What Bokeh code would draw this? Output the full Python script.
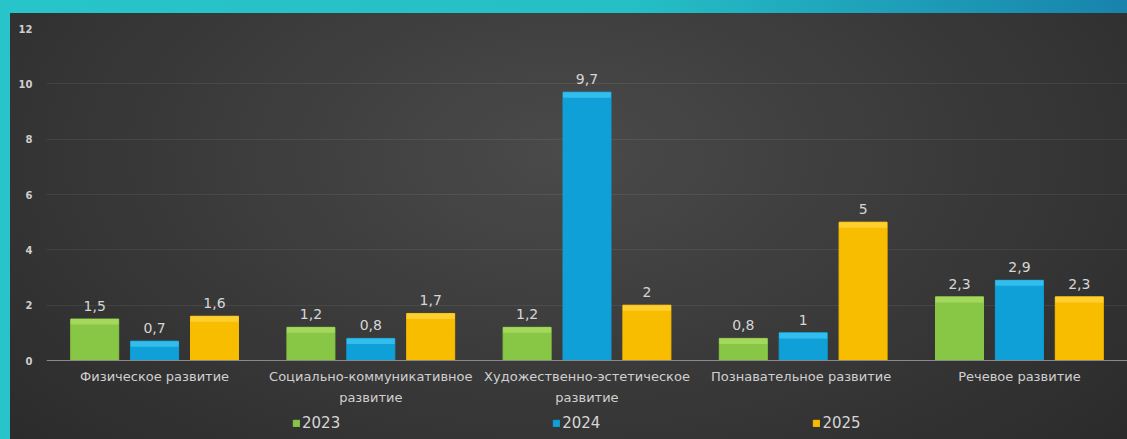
from bokeh.plotting import figure
from bokeh.models import ColumnDataSource, FixedTicker, Legend, LegendItem, GlobalInlineStyleSheet
from bokeh.transform import dodge
from bokeh.core.properties import value
from bokeh.embed import file_html
from bokeh.resources import INLINE

categories = ["Физическое развитие",
              "Социально-коммуникативное\nразвитие",
              "Художественно-эстетическое\nразвитие",
              "Познавательное  развитие",
              "Речевое развитие"]
years = ["2023", "2024", "2025"]
v2023 = [1.5, 1.2, 1.2, 0.8, 2.3]
v2024 = [0.7, 0.8, 9.7, 1.0, 2.9]
v2025 = [1.6, 1.7, 2.0, 5.0, 2.3]
y_ticks = [0, 2, 4, 6, 8, 10, 12]

series = [v2023, v2024, v2025]
colors = ["#88c646", "#0ea0d6", "#f9bd00"]
tops = ["#a3d85c", "#33bdec", "#ffcf30"]
offsets = [-0.277, 0.0, 0.277]
bar_w = 0.222
FONT = "DejaVu Sans"


def fmt(v):
    return str(int(v)) if float(v).is_integer() else str(v).replace(".", ",")


p = figure(width=1127, height=439, x_range=categories, y_range=(-2.855, 12),
           output_backend="svg", toolbar_location=None,
           min_border_left=46, min_border_right=0, min_border_top=28, min_border_bottom=0)
p.background_fill_alpha = 0
p.border_fill_alpha = 0
p.outline_line_color = None
p.styles = {"background": (
    "linear-gradient(to right, #27c4c9 0%, #25c0c6 55%, #1883ad 100%) 0 0/100% 13px no-repeat, "
    "linear-gradient(#27c4c9, #27c4c9) 0 0/10px 100% no-repeat, "
    "radial-gradient(ellipse 75% 110% at 50% 35%, #4a4a4a 0%, #3a3a3a 45%, #272727 100%)")}
p.stylesheets = [GlobalInlineStyleSheet(css="html,body{overflow:hidden;background:#2a2a2a;}")]

items = []
for yr, vals, c, tc, off in zip(years, series, colors, tops, offsets):
    src = ColumnDataSource(dict(cat=categories, val=vals,
                                hb=[v - 0.2 for v in vals],
                                lab=[fmt(v) for v in vals]))
    xs = dodge("cat", off, range=p.x_range)
    r = p.vbar(x=xs, top="val", bottom=0, width=bar_w, source=src,
               fill_color=c, line_color=c, line_width=1)
    p.vbar(x=xs, top="val", bottom="hb", width=bar_w, source=src,
           fill_color=tc, line_color=None)
    p.text(x=xs, y="val", text="lab", source=src, text_align="center",
           text_baseline="bottom", y_offset=-8, text_color="#d6d6d6",
           text_font=value(FONT), text_font_size="14px")
    items.append(LegendItem(label=yr, renderers=[r]))

p.yaxis.ticker = FixedTicker(ticks=y_ticks)
p.yaxis.axis_line_color = None
p.yaxis.major_tick_line_color = None
p.yaxis.major_tick_out = 0
p.yaxis.minor_tick_line_color = None
p.yaxis.major_label_text_color = "#cfcfcf"
p.yaxis.major_label_text_font = FONT
p.yaxis.major_label_text_font_size = "10px"
p.yaxis.major_label_text_font_style = "bold"
p.yaxis.major_label_standoff = 14

p.xaxis.fixed_location = 0
p.xaxis.axis_line_color = "#8a8a8a"
p.xaxis.axis_line_width = 1
p.xaxis.major_tick_line_color = None
p.xaxis.major_tick_out = 0
p.xaxis.minor_tick_line_color = None
p.xaxis.major_label_text_color = "#d0d0d0"
p.xaxis.major_label_text_font = FONT
p.xaxis.major_label_text_font_size = "13px"
p.xaxis.major_label_text_line_height = 1.45
p.xaxis.major_label_standoff = 8

p.xgrid.grid_line_color = None
p.ygrid.ticker = FixedTicker(ticks=y_ticks)
p.ygrid.grid_line_color = "#ffffff"
p.ygrid.grid_line_alpha = 0.07

legend = Legend(items=items, orientation="horizontal", location=(246, 7),
                spacing=212, glyph_width=8, glyph_height=8, label_standoff=2,
                padding=0, margin=0, background_fill_alpha=0, border_line_alpha=0,
                label_text_color="#d6d6d6", label_text_font=FONT,
                label_text_font_size="15px")
p.add_layout(legend)

open("out.html", "w").write(file_html(p, INLINE))
